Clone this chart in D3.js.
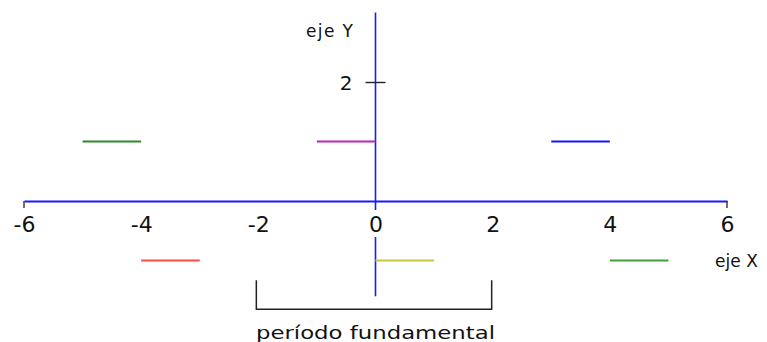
<!DOCTYPE html>
<html>
<head>
<meta charset="utf-8">
<script src="https://cdn.jsdelivr.net/npm/d3@7"></script>
<style>
  html, body { margin: 0; padding: 0; background: #fff; }
  svg { display: block; }
  text { font-family: "DejaVu Sans", sans-serif; fill: #111; }
</style>
</head>
<body>
<svg id="chart" width="767" height="342"></svg>
<script>
// ---- data ----
const segStart = [-5, -4, -1, 0, 3, 4];
const segEnd   = [-4, -3,  0, 1, 4, 5];
const segValue = [ 1, -1,  1, -1, 1, -1];
const segColors = ["#2a8a2a", "#ff4848", "#c020c0", "#c8c83c", "#1414f0", "#40a040"];
const xTicks = [-6, -4, -2, 0, 2, 4, 6];
const yTicks = [2];
const xDomain = [-6, 6];
const yAxisExtent = [-1.6, 3.17];
const periodFrom = -2, periodTo = 2;
const periodLabel = "período fundamental";
const xAxisLabel = "eje X";
const yAxisLabel = "eje Y";

// ---- drawing ----
const svg = d3.select("#chart");
const x = d3.scaleLinear().domain(xDomain).range([24, 727]);
const y = d3.scaleLinear().domain([0, 2]).range([201, 82]);
const axisBlue = "#1a1aff";
const tickFont = "Liberation Sans, Arial, sans-serif";

// y axis line (vertical)
svg.append("line")
  .attr("x1", x(0)).attr("x2", x(0))
  .attr("y1", y(yAxisExtent[1])).attr("y2", y(yAxisExtent[0]))
  .attr("stroke", axisBlue).attr("stroke-width", 1.6);

// x axis
const gx = svg.append("g").attr("transform", `translate(0,${y(0)})`)
  .call(d3.axisBottom(x).tickValues(xTicks).tickFormat(d3.format("d"))
    .tickSizeInner(0).tickSizeOuter(0).tickPadding(0));
gx.select(".domain").attr("stroke", axisBlue).attr("stroke-width", 2);
gx.selectAll(".tick line").remove();
gx.selectAll(".tick text")
  .attr("y", 31).attr("dy", 0)
  .attr("font-size", 22)
  .attr("font-family", tickFont)
  .attr("fill", "#111")
  .text(d => d < 0 ? "-" + Math.abs(d) : d);
// white gap behind the "0" label (covers the y axis)
gx.selectAll(".tick").filter(d => d === 0).insert("rect", "text")
  .attr("x", -8).attr("y", 9).attr("width", 16).attr("height", 27).attr("fill", "#fff");

// end ticks at -6 and 6
svg.selectAll(".endtick").data([xDomain[0], xDomain[1]]).enter().append("line")
  .attr("class", "endtick")
  .attr("x1", d => x(d)).attr("x2", d => x(d))
  .attr("y1", y(0)).attr("y2", y(0) + 7)
  .attr("stroke", "#222").attr("stroke-width", 1.3);

// y axis ticks
const gy = svg.append("g").attr("transform", `translate(${x(0)},0)`)
  .call(d3.axisLeft(y).tickValues(yTicks).tickFormat(d3.format("d"))
    .tickSizeInner(10).tickSizeOuter(0).tickPadding(0));
gy.select(".domain").remove();
gy.selectAll(".tick line").attr("x1", -10).attr("x2", 10).attr("stroke", "#222").attr("stroke-width", 1.4);
gy.selectAll(".tick text")
  .attr("x", -23).attr("dy", "0.36em")
  .attr("font-size", 20)
  .attr("font-family", tickFont)
  .attr("fill", "#111");

// segments
const segs = segStart.map((s, i) => ({ s, e: segEnd[i], v: segValue[i], c: segColors[i] }));
svg.selectAll(".seg").data(segs).enter().append("line")
  .attr("class", "seg")
  .attr("x1", d => x(d.s)).attr("x2", d => x(d.e))
  .attr("y1", d => y(d.v)).attr("y2", d => y(d.v))
  .attr("stroke", d => d.c).attr("stroke-width", 2);

// period bracket
const bTop = y(-1.33), bBot = y(-1.82);
svg.append("path")
  .attr("d", `M${x(periodFrom) - 2},${bTop}V${bBot}H${x(periodTo) - 1}V${bTop}`)
  .attr("fill", "none").attr("stroke", "#222").attr("stroke-width", 1.5);

svg.append("text")
  .attr("x", 256).attr("y", 339)
  .attr("font-size", 18)
  .attr("textLength", 239).attr("lengthAdjust", "spacingAndGlyphs")
  .text(periodLabel);

svg.append("text")
  .attr("x", 715).attr("y", 267)
  .attr("font-size", 17)
  .attr("textLength", 43).attr("lengthAdjust", "spacing")
  .text(xAxisLabel);

svg.append("text")
  .attr("x", 306).attr("y", 37)
  .attr("font-size", 17)
  .attr("textLength", 47).attr("lengthAdjust", "spacing")
  .text(yAxisLabel);
</script>
</body>
</html>
